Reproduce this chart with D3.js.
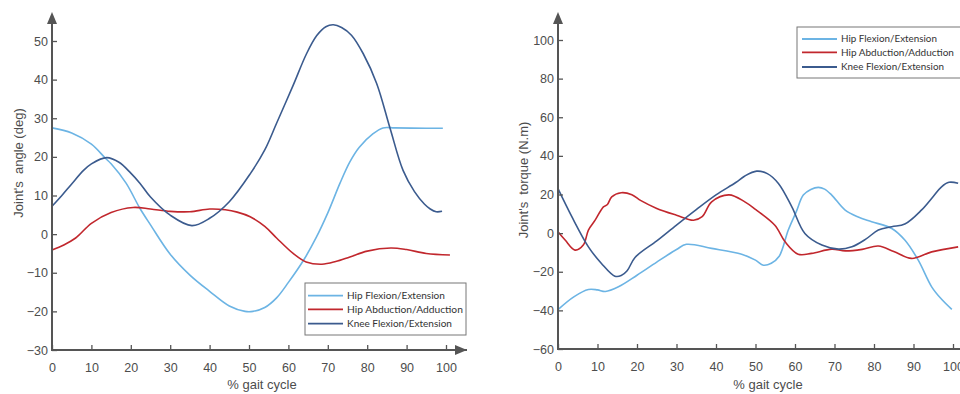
<!DOCTYPE html>
<html><head><meta charset="utf-8">
<script src="https://cdn.jsdelivr.net/npm/d3@7"></script>
<style>
html,body{margin:0;padding:0;background:#fff;}
svg{display:block;}
.tick text{font-family:"Liberation Sans",Arial,sans-serif;font-size:12.5px;fill:#4d4d4d;}
.lab{font-family:"Liberation Sans",Arial,sans-serif;font-size:13px;fill:#4d4d4d;}
.leg{font-family:"Lato","Open Sans",sans-serif;font-size:11.5px;fill:#333;}
</style></head><body>
<svg id="c" width="960" height="394"></svg>
<script>
const seriesNames = ["Hip Flexion/Extension","Hip Abduction/Adduction","Knee Flexion/Extension"];
const seriesColors = ["#6cb4e4","#c1272d","#3b5b8e"];
const xTicks = [0,10,20,30,40,50,60,70,80,90,100];
const angleTicks = [-30,-20,-10,0,10,20,30,40,50];
const torqueTicks = [-60,-40,-20,0,20,40,60,80,100];

// Joint angle (deg)
const angleHipFlex = [[0,27.5],[5,26.2],[10,23.3],[13.5,19.7],[15,18.2],[18.8,13.2],[22.3,6.7],[25,2.4],[30,-5.2],[35,-10.6],[40,-14.8],[45,-18.6],[49,-20],[51,-20],[54,-19],[57,-16.5],[60,-12.5],[64,-6.5],[67,-1],[70,5.5],[73.1,13.2],[75.6,18.7],[78,22.5],[81.5,26],[84,27.5],[87,27.5],[95,27.4],[99.2,27.4]];
const angleHipAbd = [[0,-4.1],[3,-2.8],[6,-1],[10,2.8],[15,5.6],[20.6,6.9],[25,6.5],[30,5.9],[35,5.8],[40,6.5],[44,6.3],[47,5.7],[50.3,4.5],[54,2],[57,-1],[61.2,-5],[64.5,-7.2],[68.5,-7.8],[72,-7.1],[75.6,-5.9],[80,-4.4],[86,-3.6],[90,-4],[95,-5],[101,-5.4]];
const angleKnee = [[0,7.2],[2.5,10],[5,13],[8,16.5],[10,18.2],[13.9,19.8],[17,18.6],[20,15.8],[22.3,13.2],[25,9.6],[30,4.9],[35.5,2.2],[40,4.1],[45,8.4],[50.3,15.6],[54,21.8],[57,28.7],[61.2,38.5],[64.6,46.7],[67.2,51.4],[69.5,53.7],[71.4,54.2],[73.5,53.5],[76,51.5],[79,46.7],[82.4,39],[85.8,27.4],[89.1,16.5],[92,11],[94.5,7.8],[96,6.5],[97.5,5.8],[99,5.9]];

// Joint torque (N.m)
const torqueHipFlex = [[0,-39.6],[4,-33],[7.7,-29.2],[10,-29.4],[12,-30.2],[15.3,-27.8],[20,-21.8],[25,-15],[30,-8.5],[32.5,-5.8],[38.9,-7.9],[46.5,-10.9],[50,-14],[52,-16.6],[54,-15.6],[56,-12],[58.3,1.6],[60.3,11],[62.1,19.7],[64,22.6],[65.9,23.7],[67.5,22.8],[69.3,19.7],[72.7,11.9],[76,8.3],[79.4,5.9],[84.5,2.4],[87.8,-3.6],[91.2,-14],[94.6,-27.8],[97,-34],[99.7,-39.5]];
const torqueHipAbd = [[0,0.7],[1.8,-3.6],[4.3,-8.8],[6.4,-6.2],[7.7,1.6],[9.4,6.7],[11.5,13.6],[12.5,14.8],[13.6,18.8],[16,20.9],[18.7,19.9],[21,16.8],[25,12.8],[30,9.3],[34.3,6.7],[36.5,8.5],[38.9,16.2],[43.3,19.8],[47.3,16.2],[50,12.3],[54.9,4.1],[57.5,-4.5],[60.8,-10.9],[64.2,-10.5],[69.3,-8.3],[72.7,-9.2],[77,-8.4],[81.1,-6.7],[85,-9.5],[89.5,-13.1],[94.6,-9.7],[101.3,-7.1]];
const torqueKnee = [[0,23],[3.5,8.5],[7.7,-7.1],[11,-15.7],[14.4,-22.3],[16,-22],[17.5,-19.5],[19.5,-12.6],[25,-4],[30,4.2],[35,12.2],[40,19.8],[45,26.2],[47.3,29.6],[50.3,32.1],[53,30.8],[55.8,25.7],[59.2,13.6],[62.5,-0.2],[66.8,-6.2],[71,-8.3],[74.4,-7.1],[78,-3],[81.1,1.6],[84.5,3.3],[87.8,4.7],[92,11.9],[95,19],[97.1,24],[99,26.3],[101.3,25.8]];

const svg = d3.select("#c");
const axisColor = "#555";

function drawPanel(cfg){
  const g = svg.append("g");
  const x = d3.scaleLinear().domain([0,100]).range([cfg.x0, cfg.x1]);
  const y = d3.scaleLinear().domain(cfg.ydom).range([cfg.yb, cfg.yt]);
  const line = d3.line().x(d=>x(d[0])).y(d=>y(d[1])).curve(d3.curveCatmullRom.alpha(0.5));
  cfg.series.forEach((s,i)=>{
    g.append("path").datum(s).attr("d",line).attr("fill","none")
     .attr("stroke",seriesColors[i]).attr("stroke-width",1.6);
  });
  const xa = g.append("g").attr("transform",`translate(0,${cfg.yb})`)
    .call(d3.axisTop(x).tickValues(xTicks).tickSize(5).tickFormat(d3.format("d")));
  xa.select(".domain").remove();
  xa.selectAll(".tick line").attr("stroke",axisColor).attr("stroke-width",1.3);
  xa.selectAll(".tick text").attr("y",13).attr("dy","0.71em");
  const ya = g.append("g").attr("transform",`translate(${cfg.x0},0)`)
    .call(d3.axisRight(y).tickValues(cfg.yticks).tickSize(5).tickFormat(d3.format("d")));
  ya.select(".domain").remove();
  ya.selectAll(".tick line").attr("stroke",axisColor).attr("stroke-width",1.3);
  ya.selectAll(".tick text").attr("x",-4).attr("text-anchor","end");
  g.append("line").attr("x1",cfg.x0).attr("x2",cfg.xEnd).attr("y1",cfg.yb).attr("y2",cfg.yb)
    .attr("stroke",axisColor).attr("stroke-width",2);
  g.append("line").attr("x1",cfg.x0).attr("x2",cfg.x0).attr("y1",cfg.yb+1).attr("y2",cfg.yTop+8)
    .attr("stroke",axisColor).attr("stroke-width",2);
  g.append("path").attr("d",`M${cfg.x0-5},${cfg.yTop+12} L${cfg.x0},${cfg.yTop} L${cfg.x0+5},${cfg.yTop+12} Z`).attr("fill",axisColor);
  if(cfg.xArrow){
    g.append("path").attr("d",`M${cfg.xEnd-12},${cfg.yb-5} L${cfg.xEnd},${cfg.yb} L${cfg.xEnd-12},${cfg.yb+5} Z`).attr("fill",axisColor);
  }
  g.append("text").attr("class","lab").attr("x",cfg.xlx).attr("y",389).attr("text-anchor","middle").text("% gait cycle");
  g.append("text").attr("class","lab").attr("transform",`translate(${cfg.ylx},${cfg.yly}) rotate(-90)`)
    .attr("text-anchor","middle").attr("dy","0.35em").attr("xml:space","preserve").text(cfg.ylabel);
  const L = g.append("g").attr("transform",`translate(${cfg.lx},${cfg.ly})`);
  L.append("rect").attr("x",0).attr("y",0).attr("width",cfg.lw).attr("height",cfg.lh)
    .attr("fill","#fff").attr("stroke","#777").attr("stroke-width",1);
  seriesNames.forEach((n,i)=>{
    const yy = cfg.rows[i];
    L.append("line").attr("x1",cfg.lineX[0]).attr("x2",cfg.lineX[1]).attr("y1",yy).attr("y2",yy)
      .attr("stroke",seriesColors[i]).attr("stroke-width",1.8);
    const t = L.append("text").attr("class","leg").attr("x",cfg.lineX[1]+4).attr("y",yy).attr("dy","0.35em").text(n);
    // fit the font size so the text spans the width seen in the picture
    const w = t.node().getComputedTextLength();
    if (w > 0) t.style("font-size", (11.5 * cfg.tw[i] / w).toFixed(2) + "px");
  });
}

drawPanel({x0:52,x1:446,xEnd:467,yb:350,yt:41,ydom:[-30,50],yTop:12,yticks:angleTicks,xArrow:true,
  series:[angleHipFlex,angleHipAbd,angleKnee],ylabel:"Joint's  angle (deg)",ylx:18,yly:163,xlx:262,
  lx:305,ly:283,lw:161,lh:52,rows:[12.7,26.3,40.7],lineX:[3,38],tw:[98,116,105]});
drawPanel({x0:558,x1:953,xEnd:962,yb:349,yt:40,ydom:[-60,100],yTop:12,yticks:torqueTicks,xArrow:false,
  series:[torqueHipFlex,torqueHipAbd,torqueKnee],ylabel:"Joint's  torque (N.m)",ylx:523,yly:180,xlx:768,
  lx:797,ly:27,lw:170,lh:51,rows:[12,25.3,40],lineX:[5,40],tw:[96,113,103]});
</script></body></html>
